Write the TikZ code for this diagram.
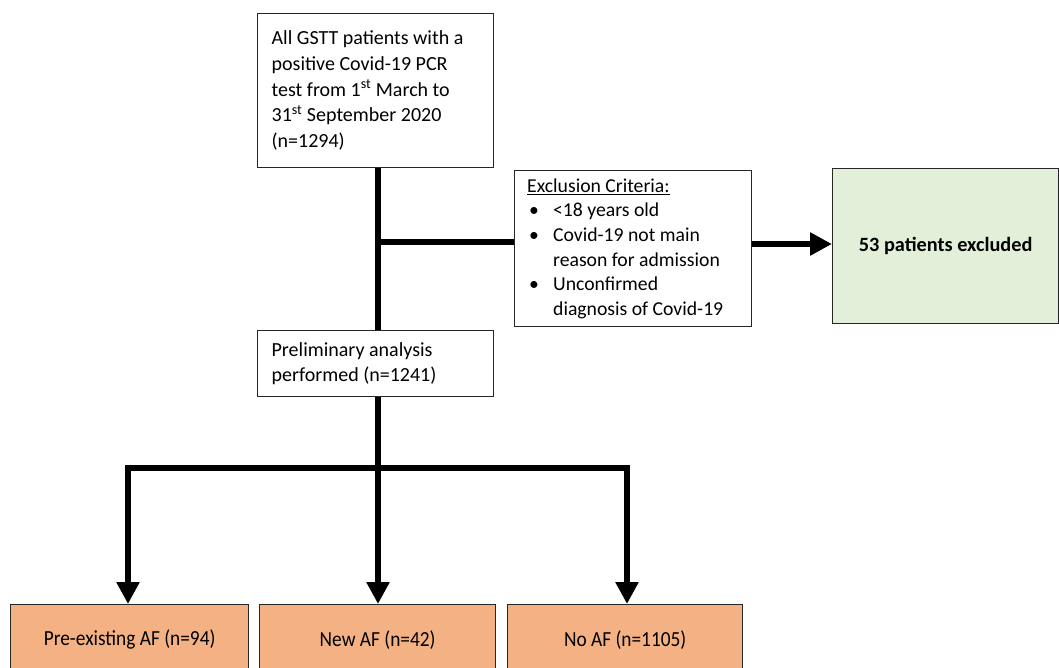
\documentclass[tikz,border=0pt]{standalone}
\usepackage{fontspec}
\setmainfont{Carlito}
\newfontfamily\condfont[FakeStretch=0.9]{Carlito}
\usetikzlibrary{arrows.meta}
\definecolor{exgreen}{HTML}{E2EFD9}
\definecolor{grouporange}{HTML}{F4B183}
\begin{document}
\begin{tikzpicture}[x=1pt,y=-1pt,
  box/.style={draw=black!85,line width=1.3pt,anchor=north west,inner sep=0pt,font=\fontsize{20}{25.7}\selectfont},
  thick line/.style={line width=6pt},
  arr/.style={line width=6pt,-{Triangle[length=22pt,width=22pt]}},
  bottombox/.style={box,fill=grouporange,minimum width=238pt,minimum height=70pt,font=\condfont\fontsize{21.5}{24}\selectfont}
]
\useasboundingbox (0,0) rectangle (1059,667);
\node[box,minimum width=236pt,minimum height=154pt] (top) at (257,13)
  {\begin{minipage}{208pt}All GSTT patients with a\\positive Covid-19 PCR\\test from 1\textsuperscript{st} March to\\31\textsuperscript{st} September 2020\\(n=1294)\end{minipage}};
\node[box,minimum width=237pt,minimum height=156pt,font=\fontsize{19.7}{24.6}\selectfont] (excl) at (514,170)
  {\begin{minipage}{212pt}\underline{Exclusion Criteria:}\\
   \makebox[26pt][l]{\hspace{2pt}•}<18 years old\\
   \makebox[26pt][l]{\hspace{2pt}•}Covid-19 not main\\
   \hspace*{26pt}reason for admission\\
   \makebox[26pt][l]{\hspace{2pt}•}Unconfirmed\\
   \hspace*{26pt}diagnosis of Covid-19\end{minipage}};
\node[box,fill=exgreen,minimum width=226pt,minimum height=155pt,font=\fontsize{20.3}{25}\selectfont\bfseries] (out) at (832,168) {53 patients excluded};
\node[box,minimum width=236pt,minimum height=66pt] (pre) at (257,330)
  {\begin{minipage}{208pt}Preliminary analysis\\performed (n=1241)\end{minipage}};
\node[bottombox] (b1) at (10,604) {Pre-existing AF (n=94)};
\node[bottombox,minimum width=236pt] (b2) at (259,604) {New AF (n=42)};
\node[bottombox,minimum width=235pt] (b3) at (507,604) {No AF (n=1105)};
\coordinate (j1) at (378,242);
\coordinate (j2) at (378,468);
\coordinate (l) at (128,468);
\coordinate (r) at (627,468);
\draw[thick line] (top.south -| j1) -- (pre.north -| j1);
\draw[thick line] (j1) -- (excl.west |- j1);
\draw[arr] (excl.east |- 0,244) -- (out.west |- 0,244);
\draw[thick line] (pre.south -| j2) -- (j2);
\draw[thick line] ([xshift=-3pt]l) -- ([xshift=3pt]r);
\draw[arr] (l) -- (b1.north -| l);
\draw[arr] (j2) -- (b2.north -| j2);
\draw[arr] (r) -- (b3.north -| r);
\end{tikzpicture}
\end{document}
